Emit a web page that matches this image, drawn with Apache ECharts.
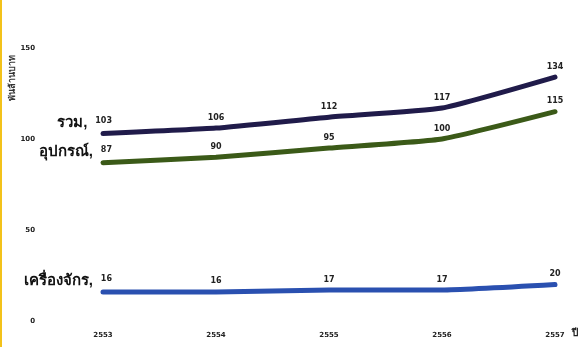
<!DOCTYPE html>
<html>
<head>
<meta charset="utf-8">
<script src="https://cdn.jsdelivr.net/npm/echarts@6/dist/echarts.min.js"></script>
<style>
  html, body { margin: 0; padding: 0; background: #fff; }
  #chart { width: 588px; height: 347px; }
</style>
</head>
<body>
<div id="chart"></div>
<script>
// Years (Buddhist era) along the x axis
const years = ['2553', '2554', '2555', '2556', '2557'];
// Series names and values
const seriesNames = ['รวม', 'อุปกรณ์', 'เครื่องจักร'];
const totalValues = [103, 106, 112, 117, 134];
const equipmentValues = [87, 90, 95, 100, 115];
const machineryValues = [16, 16, 17, 17, 20];
const yTicks = [0, 50, 100, 150];
const unitLabel = 'พันล้านบาท';
const xUnit = 'ปี';

const colors = ['#201b4a', '#3b5a18', '#2a50b0'];
const valueFont = { fontFamily: 'DejaVu Sans', fontWeight: 'bold', fontSize: 8, color: '#222' };

function makeSeries(name, values, color) {
  return {
    name: name,
    type: 'line',
    data: values.map((v, i) => {
      if (i === 0) {
        // first point carries the series name in front of its value
        return {
          value: v,
          label: {
            show: true,
            position: 'top',
            align: 'right',
            offset: [9, 0],
            formatter: '{n|' + name + ',}{v|{c}}',
            rich: {
              n: { fontFamily: 'sans-serif', fontWeight: 'bold', fontSize: 15, color: '#111', padding: [0, 0, -3, 0] },
              v: Object.assign({ padding: [0, 0, 0, 8] }, valueFont)
            }
          }
        };
      }
      return v;
    }),
    smooth: 0.15,
    symbol: 'circle',
    symbolSize: 1,
    showSymbol: true,
    itemStyle: { color: color },
    lineStyle: { color: color, width: 5, cap: 'round' },
    label: Object.assign({ show: true, position: 'top', distance: 6 }, valueFont),
    silent: true
  };
}

const chart = echarts.init(document.getElementById('chart'));
chart.setOption({
  animation: false,
  backgroundColor: '#fff',
  grid: { left: 103, right: 33, top: 48, bottom: 26 },
  xAxis: {
    type: 'category',
    data: years,
    boundaryGap: false,
    axisLine: { show: false },
    axisTick: { show: false },
    axisLabel: { margin: 11, fontFamily: 'DejaVu Sans', fontWeight: 'bold', fontSize: 7, color: '#222' },
    name: xUnit,
    nameLocation: 'end',
    nameGap: 17,
    nameTextStyle: { fontFamily: 'sans-serif', fontWeight: 'bold', fontSize: 10, color: '#222', verticalAlign: 'top', padding: [7, 0, 0, 0] }
  },
  yAxis: {
    type: 'value',
    min: yTicks[0],
    max: yTicks[yTicks.length - 1],
    interval: 50,
    axisLine: { show: false },
    axisTick: { show: false },
    splitLine: { show: false },
    axisLabel: { margin: 68, fontFamily: 'DejaVu Sans', fontWeight: 'bold', fontSize: 7, color: '#222' }
  },
  graphic: [
    { type: 'rect', left: 0, top: 0, shape: { width: 2, height: 347 }, style: { fill: '#f3c21a' } },
    {
      type: 'text', x: 13, y: 78, rotation: Math.PI / 2, originX: 0, originY: 0,
      style: { text: unitLabel, fontFamily: 'sans-serif', fontWeight: 'bold', fontSize: 9, fill: '#333', align: 'center', verticalAlign: 'middle' }
    }
  ],
  series: [
    makeSeries(seriesNames[0], totalValues, colors[0]),
    makeSeries(seriesNames[1], equipmentValues, colors[1]),
    makeSeries(seriesNames[2], machineryValues, colors[2])
  ]
});
</script>
</body>
</html>
